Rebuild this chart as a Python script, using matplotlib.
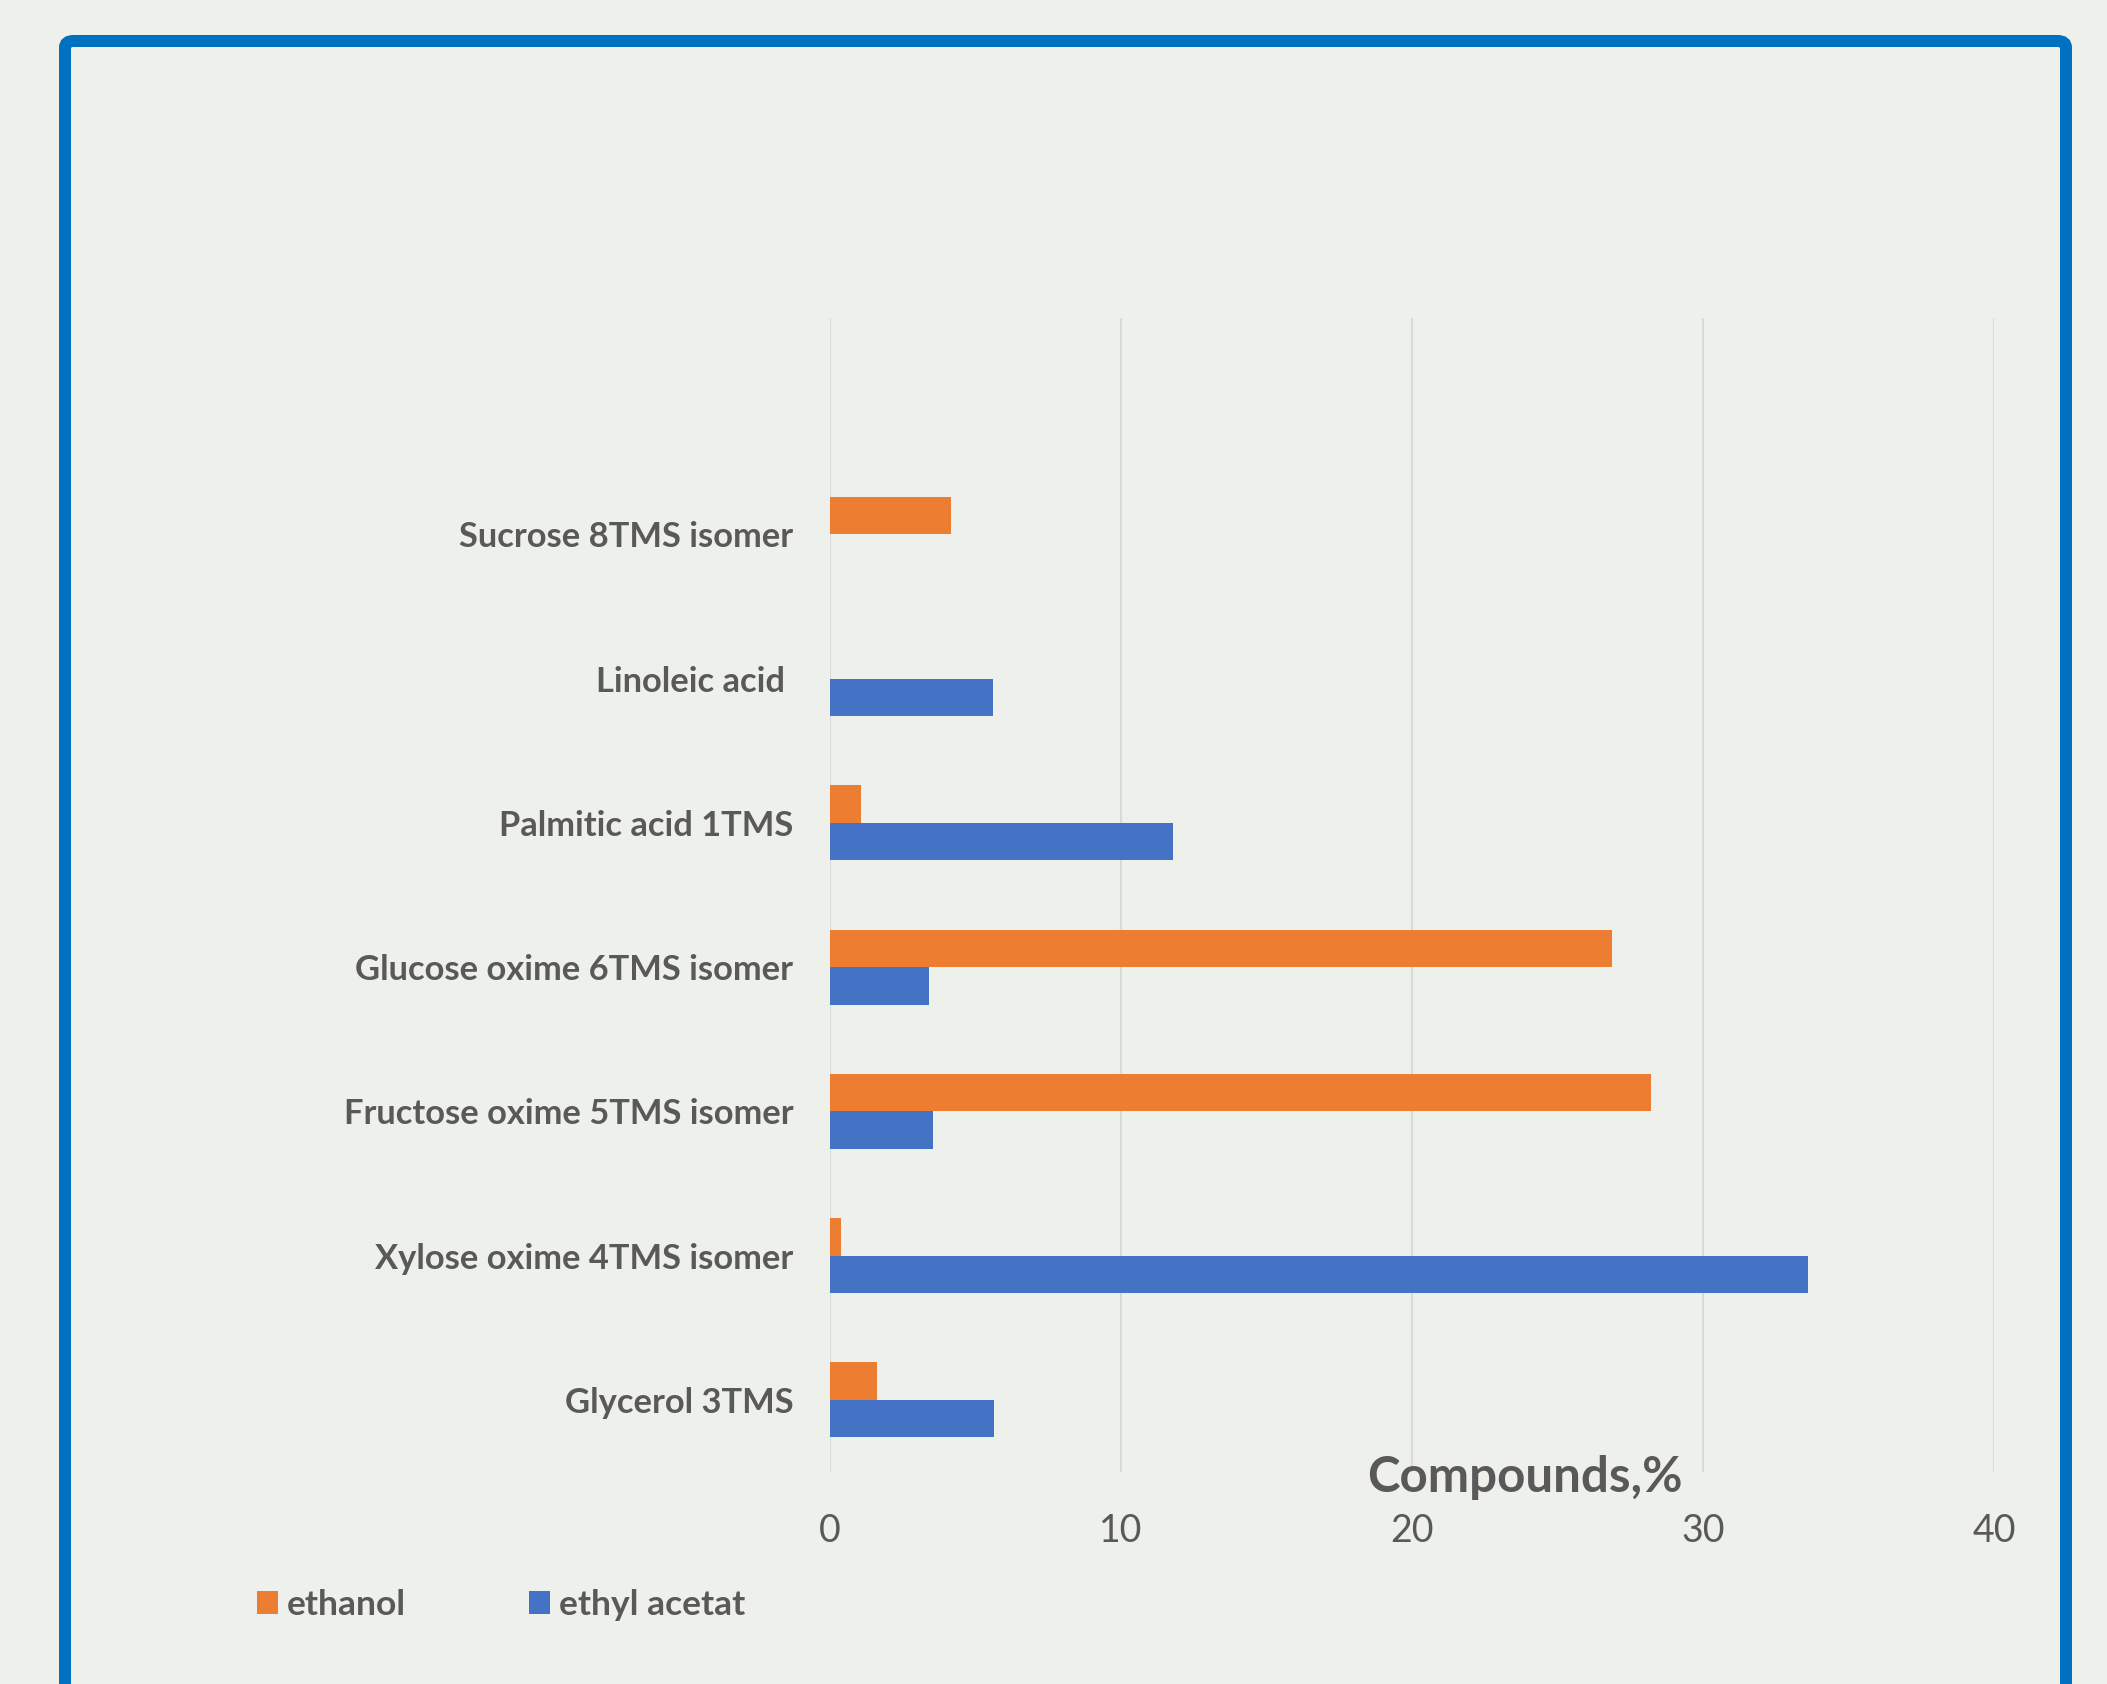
import matplotlib
matplotlib.use("Agg")
import matplotlib.pyplot as plt
from matplotlib.patches import FancyBboxPatch
import numpy as np

# Compound names (bottom to top) and percentage by extraction solvent
compounds = [
    "Glycerol 3TMS",
    "Xylose oxime 4TMS isomer",
    "Fructose oxime 5TMS isomer",
    "Glucose oxime 6TMS isomer",
    "Palmitic acid 1TMS",
    "Linoleic acid ",
    "Sucrose 8TMS isomer",
    "",
]
ethanol = [1.63, 0.38, 28.22, 26.86, 1.07, 0.0, 4.15, 0.0]
ethyl_acetat = [5.63, 33.6, 3.54, 3.41, 11.78, 5.61, 0.0, 0.0]
series_names = ["ethanol", "ethyl acetat"]
x_ticks = [0, 10, 20, 30, 40]
x_label = "Compounds,%"

W, H = 2107, 1684
DPI = 100
BG = "#EDF0EB"
TEXT = "#595959"
ORANGE = "#ED7D31"
BLUE = "#4472C4"
FONT = ["Lato", "DejaVu Sans"]

plt.rcParams["font.family"] = FONT

fig = plt.figure(figsize=(W / DPI, H / DPI), dpi=DPI, facecolor=BG)

# Blue outer frame (open at the bottom edge of the canvas)
frame = FancyBboxPatch(
    (65 / W, -0.05), (2066 - 65) / W, (1 - 41 / H) + 0.05,
    boxstyle="round,pad=0,rounding_size=0.004",
    transform=fig.transFigure, facecolor="none",
    edgecolor="#0070C0", linewidth=12 * 72 / DPI, zorder=0,
)
fig.patches.append(frame)

left, right = 830 / W, 1994 / W
top, bottom = 1 - 318 / H, 1 - 1472 / H
ax = fig.add_axes([left, bottom, right - left, top - bottom])
ax.set_facecolor("none")

y = np.arange(len(compounds))
h = 0.26
ax.barh(y + h / 2, ethanol, height=h, color=ORANGE, label=series_names[0], zorder=3)
ax.barh(y - h / 2, ethyl_acetat, height=h, color=BLUE, label=series_names[1], zorder=3)

ax.set_xlim(0, 40)
ax.set_ylim(-0.5, len(compounds) - 0.5)
ax.set_xticks(x_ticks)
ax.set_xticklabels([str(t) for t in x_ticks], fontsize=27, color=TEXT)
ax.set_yticks(y)
ax.set_yticklabels(compounds, fontsize=24.8, fontweight="bold", color=TEXT)
ax.tick_params(axis="both", length=0)
ax.tick_params(axis="y", pad=26.5)
ax.tick_params(axis="x", pad=29.5)
ax.grid(axis="x", color="#D9D9D9", linewidth=1.5, zorder=0)
for s in ax.spines.values():
    s.set_visible(False)

fig.text(1525 / W, 1 - 1478 / H, x_label, fontsize=35.5, fontweight="bold",
         color=TEXT, ha="center", va="center")

leg = fig.legend(
    loc="center left", bbox_to_anchor=(257 / W, 1 - 1605 / H), ncol=2,
    frameon=False, handlelength=0.58, handleheight=0.58,
    handletextpad=0.25, columnspacing=3.5, borderpad=0, borderaxespad=0,
    prop={"weight": "bold", "size": 25.5},
)
for t in leg.get_texts():
    t.set_color(TEXT)

fig.savefig("out.png", dpi=DPI, facecolor=BG)
